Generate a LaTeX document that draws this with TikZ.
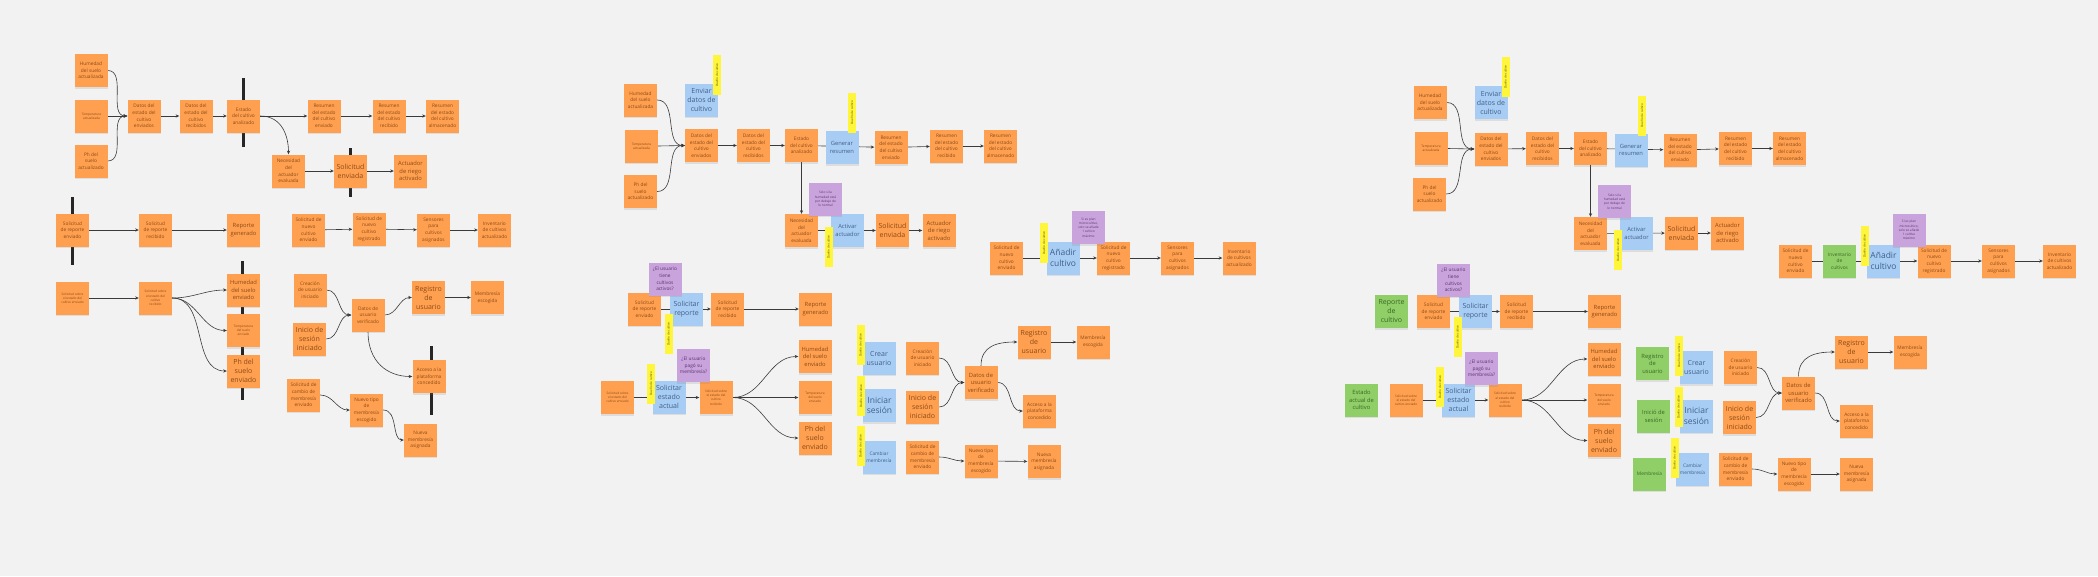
\documentclass[tikz,border=0pt]{standalone}
\usepackage{fontspec}
\setmainfont{Open Sans}
\usetikzlibrary{arrows.meta,shadows}
\pgfdeclarelayer{bg}
\pgfsetlayers{bg,main}
\definecolor{paper}{HTML}{F2F2F2}
\definecolor{orn}{HTML}{FFA050}
\definecolor{orntx}{HTML}{8C4A16}
\definecolor{blu}{HTML}{A8CDF5}
\definecolor{blutx}{HTML}{3F5F88}
\definecolor{pur}{HTML}{C9A3DB}
\definecolor{purtx}{HTML}{5A3470}
\definecolor{grn}{HTML}{90CF68}
\definecolor{grntx}{HTML}{3A6624}
\definecolor{yel}{HTML}{FFF53A}
\definecolor{yeltx}{HTML}{5A5200}
\definecolor{ink}{HTML}{3A3A3A}
\newcommand\szT{\fontsize{3.2}{4.2}\selectfont}
\newcommand\szS{\fontsize{4.8}{6.6}\selectfont}
\newcommand\szM{\fontsize{5.8}{7.6}\selectfont}
\newcommand\szL{\fontsize{7}{9}\selectfont}
\newcommand\szX{\fontsize{8.5}{10.5}\selectfont}
\newcommand\szY{\fontsize{3}{3.6}\selectfont}
\begin{document}
\begin{tikzpicture}[x=1pt,y=-1pt,
 stick/.style={minimum width=33pt,minimum height=33pt,inner sep=1pt,align=center,font=\szS,
   drop shadow={shadow xshift=0.4pt,shadow yshift=-1.6pt,opacity=0.18}},
 on/.style={stick,fill=orn,text=orntx},
 bn/.style={stick,fill=blu,text=blutx},
 gn/.style={stick,fill=grn,text=grntx},
 pn/.style={stick,fill=pur,text=purtx,font=\szT},
 yl/.style={fill=yel,text=yeltx,rotate=90,minimum width=40pt,minimum height=8pt,inner sep=0.3pt,font=\szY},
 ftn/.style={font=\szT}, fmd/.style={font=\szM}, flg/.style={font=\szL}, fxl/.style={font=\szX},
 arr/.style={draw=ink,line width=0.6pt,-{Stealth[length=3.6pt,width=3.2pt]}},
 bar/.style={draw=black!85,line width=3pt}
]
\begin{pgfonlayer}{bg}
\fill[paper] (0,0) rectangle (2098,576);
\end{pgfonlayer}

% ================= Panel 1 =================
\node[on] (a1hum) at (91,70.5) {Humedad\\del suelo\\actualizada};
\node[on,ftn] (a1tem) at (91.5,116) {Temperatura\\actualizada};
\node[on] (a1ph) at (91,161) {Ph del\\suelo\\actualizado};
\node[on] (a1den) at (144,116) {Datos del\\estado del\\cultivo\\enviados};
\node[on] (a1dre) at (196,116) {Datos del\\estado del\\cultivo\\recibidos};
\node[on] (a1est) at (243.5,116) {Estado\\del cultivo\\analizado};
\node[on] (a1ren) at (324,116) {Resumen\\del estado\\del cultivo\\enviado};
\node[on] (a1rre) at (389,116) {Resumen\\del estado\\del cultivo\\recibido};
\node[on] (a1ral) at (442.5,116) {Resumen\\del estado\\del cultivo\\almacenado};
\node[on] (a1nec) at (288.5,171) {Necesidad\\del\\actuador\\evaluada};
\node[on,flg] (a1sol) at (350.5,171) {Solicitud\\enviada};
\node[on,fmd] (a1act) at (410.5,171) {Actuador\\de riego\\activado};
\node[on] (a1sre) at (72.5,230) {Solicitud\\de reporte\\enviado};
\node[on] (a1srr) at (155.5,230) {Solicitud\\de reporte\\recibido};
\node[on,fmd] (a1rep) at (243.5,230) {Reporte\\generado};
\node[on] (a1snc) at (308.5,230) {Solicitud de\\nuevo\\cultivo\\enviado};
\node[on] (a1snr) at (369,229) {Solicitud de\\nuevo\\cultivo\\registrado};
\node[on] (a1sen) at (433.5,230) {Sensores\\para\\cultivos\\asignados};
\node[on] (a1inv) at (494.5,230) {Inventario\\de cultivos\\actualizado};
\node[on,ftn] (a1sse) at (72.5,298) {Solicitud sobre\\el estado del\\cultivo enviado};
\node[on,ftn] (a1ssr) at (155.5,298) {Solicitud sobre\\el estado del\\cultivo\\recibido};
\node[on,fmd] (a1hue) at (243.5,290) {Humedad\\del suelo\\enviado};
\node[on,ftn] (a1tee) at (243.5,330.5) {Temperatura\\del suelo\\enviado};
\node[on,flg] (a1phe) at (243.5,371) {Ph del\\suelo\\enviado};
\node[on] (a1cre) at (310,290) {Creación\\de usuario\\iniciado};
\node[on,flg] (a1ini) at (309.5,339) {Inicio de\\sesión\\iniciado};
\node[on] (a1dat) at (368,315) {Datos de\\usuario\\verificado};
\node[on] (a1scm) at (303.5,395) {Solicitud de\\cambio de\\membresía\\enviado};
\node[on] (a1nti) at (366.5,410) {Nuevo tipo\\de\\membresía\\escogido};
\node[on,flg] (a1reg) at (428.5,297.5) {Registro\\de\\usuario};
\node[on] (a1mem) at (487.5,297.5) {Membresía\\escogida};
\node[on] (a1acc) at (429,376.5) {Acceso a la\\plataforma\\concedido};
\node[on] (a1nue) at (420.5,440) {Nueva\\membresía\\asignada};

% ================= Panel 2 =================
\node[on] (b2hum) at (640.5,100) {Humedad\\del suelo\\actualizada};
\node[on,ftn] (b2tem) at (641.5,146) {Temperatura\\actualizada};
\node[on] (b2ph) at (640.5,191.5) {Ph del\\suelo\\actualizado};
\node[bn,flg] (b2env) at (701.5,100) {Enviar\\datos de\\cultivo};
\node[on] (b2den) at (701.5,145.5) {Datos del\\estado del\\cultivo\\enviados};
\node[on] (b2dre) at (753.5,145.5) {Datos del\\estado del\\cultivo\\recibidos};
\node[on] (b2est) at (801.5,145.5) {Estado\\del cultivo\\analizado};
\node[bn,fmd] (b2gen) at (842,147.5) {Generar\\resumen};
\node[on] (b2ren) at (891,147.5) {Resumen\\del estado\\del cultivo\\enviado};
\node[on] (b2rre) at (946.5,146) {Resumen\\del estado\\del cultivo\\recibido};
\node[on] (b2ral) at (1000.5,146) {Resumen\\del estado\\del cultivo\\almacenado};
\node[on] (b2nec) at (801.5,230.5) {Necesidad\\del\\actuador\\evaluada};
\node[bn,fmd] (b2act) at (847.5,230.5) {Activar\\actuador};
\node[on,flg] (b2sol) at (892.5,230.5) {Solicitud\\enviada};
\node[on,fmd] (b2arr) at (939,230.5) {Actuador\\de riego\\activado};
\node[on] (b2snc) at (1006.5,258) {Solicitud de\\nuevo\\cultivo\\enviado};
\node[bn,fxl] (b2add) at (1063,258) {Añadir\\cultivo};
\node[on] (b2snr) at (1113.5,258) {Solicitud de\\nuevo\\cultivo\\registrado};
\node[on] (b2sen) at (1177.5,258) {Sensores\\para\\cultivos\\asignados};
\node[on] (b2inv) at (1239,258) {Inventario\\de cultivos\\actualizado};
\node[on] (b2sre) at (644.5,309) {Solicitud\\de reporte\\enviado};
\node[bn,flg] (b2srp) at (686.5,309) {Solicitar\\reporte};
\node[on] (b2srr) at (727.5,309) {Solicitud\\de reporte\\recibido};
\node[on,fmd] (b2rep) at (815.5,309) {Reporte\\generado};
\node[on,ftn] (b2sse) at (617.5,397.5) {Solicitud sobre\\el estado del\\cultivo enviado};
\node[bn,flg] (b2sea) at (669,397) {Solicitar\\estado\\actual};
\node[on,ftn] (b2ssr) at (716,397.5) {Solicitud sobre\\el estado del\\cultivo\\recibido};
\node[on,fmd] (b2hue) at (815,356.5) {Humedad\\del suelo\\enviado};
\node[on,ftn] (b2tee) at (815,397.5) {Temperatura\\del suelo\\enviado};
\node[on,flg] (b2phe) at (815,438) {Ph del\\suelo\\enviado};
\node[bn,flg] (b2cus) at (879,358) {Crear\\usuario};
\node[on] (b2cre) at (922.5,358) {Creación\\de usuario\\iniciado};
\node[bn,fxl] (b2ise) at (879.5,405.5) {Iniciar\\sesión};
\node[on,flg] (b2ini) at (922.5,407) {Inicio de\\sesión\\iniciado};
\node[bn] (b2cme) at (879,457) {Cambiar\\membresía};
\node[on] (b2scm) at (922.5,457) {Solicitud de\\cambio de\\membresía\\enviado};
\node[on,fmd] (b2dat) at (981,382.5) {Datos de\\usuario\\verificado};
\node[on,flg] (b2reg) at (1034,342) {Registro\\de\\usuario};
\node[on] (b2mem) at (1093,342) {Membresía\\escogida};
\node[on] (b2acc) at (1039.5,411) {Acceso a la\\plataforma\\concedido};
\node[on] (b2nti) at (981,461) {Nuevo tipo\\de\\membresía\\escogido};
\node[on] (b2nue) at (1044,461.5) {Nueva\\membresía\\asignada};

% ================= Panel 3 =================
\node[on] (c3hum) at (1430,102.5) {Humedad\\del suelo\\actualizada};
\node[on,ftn] (c3tem) at (1431,148.5) {Temperatura\\actualizada};
\node[on] (c3ph) at (1429.5,194) {Ph del\\suelo\\actualizado};
\node[bn,flg] (c3env) at (1491,102.5) {Enviar\\datos de\\cultivo};
\node[on] (c3den) at (1491,149) {Datos del\\estado del\\cultivo\\enviados};
\node[on] (c3dre) at (1542.5,148.5) {Datos del\\estado del\\cultivo\\recibidos};
\node[on] (c3est) at (1590.5,148.5) {Estado\\del cultivo\\analizado};
\node[bn,fmd] (c3gen) at (1631,150) {Generar\\resumen};
\node[on] (c3ren) at (1680,150) {Resumen\\del estado\\del cultivo\\enviado};
\node[on] (c3rre) at (1735.5,148.5) {Resumen\\del estado\\del cultivo\\recibido};
\node[on] (c3ral) at (1789.5,148.5) {Resumen\\del estado\\del cultivo\\almacenado};
\node[on] (c3nec) at (1590.5,233.5) {Necesidad\\del\\actuador\\evaluada};
\node[bn,fmd] (c3act) at (1636.5,233.5) {Activar\\actuador};
\node[on,flg] (c3sol) at (1681.5,233) {Solicitud\\enviada};
\node[on,fmd] (c3arr) at (1727.5,233) {Actuador\\de riego\\activado};
\node[on] (c3snc) at (1795.5,261) {Solicitud de\\nuevo\\cultivo\\enviado};
\node[gn] (c3inc) at (1839.5,261) {Inventario\\de\\cultivos};
\node[bn,fxl] (c3add) at (1883.5,261) {Añadir\\cultivo};
\node[on] (c3snr) at (1934,261) {Solicitud de\\nuevo\\cultivo\\registrado};
\node[on] (c3sen) at (1998.5,261) {Sensores\\para\\cultivos\\asignados};
\node[on] (c3inv) at (2059.5,261) {Inventario\\de cultivos\\actualizado};
\node[gn,flg] (c3rcu) at (1391.5,311.5) {Reporte\\de\\cultivo};
\node[on] (c3sre) at (1433.5,311.5) {Solicitud\\de reporte\\enviado};
\node[bn,flg] (c3srp) at (1475.5,311.5) {Solicitar\\reporte};
\node[on] (c3srr) at (1516.5,311.5) {Solicitud\\de reporte\\recibido};
\node[on,fmd] (c3rep) at (1604.5,311.5) {Reporte\\generado};
\node[gn,fmd] (c3eac) at (1361.5,400) {Estado\\actual de\\cultivo};
\node[on,ftn] (c3sse) at (1406,400) {Solicitud sobre\\el estado del\\cultivo enviado};
\node[bn,flg] (c3sea) at (1458.5,400) {Solicitar\\estado\\actual};
\node[on,ftn] (c3ssr) at (1505,400) {Solicitud sobre\\el estado del\\cultivo\\recibido};
\node[on,fmd] (c3hue) at (1604,359) {Humedad\\del suelo\\enviado};
\node[on,ftn] (c3tee) at (1604,400) {Temperatura\\del suelo\\enviado};
\node[on,flg] (c3phe) at (1604,440.5) {Ph del\\suelo\\enviado};
\node[gn,fmd] (c3gru) at (1652.5,363.5) {Registro\\de\\usuario};
\node[bn,flg] (c3cus) at (1696.5,367.5) {Crear\\usuario};
\node[gn,fmd] (c3gis) at (1653.5,416) {Inició de\\sesión};
\node[bn,fxl] (c3ise) at (1696.5,416) {Iniciar\\sesión};
\node[gn] (c3gme) at (1649.5,474) {Membresía};
\node[bn] (c3cme) at (1692.5,469) {Cambiar\\membresía};
\node[on] (c3cre) at (1740.5,367.5) {Creación\\de usuario\\iniciado};
\node[on,flg] (c3ini) at (1739.5,417.5) {Inicio de\\sesión\\iniciado};
\node[on,fmd] (c3dat) at (1798.5,393) {Datos de\\usuario\\verificado};
\node[on,flg] (c3reg) at (1851.5,352) {Registro\\de\\usuario};
\node[on] (c3mem) at (1910,352) {Membresía\\escogida};
\node[on] (c3acc) at (1856.5,421) {Acceso a la\\plataforma\\concedido};
\node[on] (c3scm) at (1735.5,469) {Solicitud de\\cambio de\\membresía\\enviado};
\node[on] (c3nti) at (1794,474) {Nuevo tipo\\de\\membresía\\escogido};
\node[on] (c3nue) at (1856.5,474) {Nueva\\membresía\\asignada};

% ----- purple notes -----
\node[pn] (b2p1) at (825.5,199) {Solo si la\\humedad está\\por debajo de\\lo normal};
\node[pn] (b2p2) at (1088.5,227.5) {Si es plan\\microcultivo,\\solo se añade\\1 cultivo\\máximo};
\node[pn,font=\szS] (b2p3) at (665,279) {¿El usuario\\tiene\\cultivos\\activos?};
\node[pn,font=\szS] (b2p4) at (693.5,365.5) {¿El usuario\\pagó su\\membresía?};
\node[pn] (c3p1) at (1614.5,201.5) {Solo si la\\humedad está\\por debajo de\\lo normal};
\node[pn] (c3p2) at (1909,230) {Si es plan\\microcultivo,\\solo se añade\\1 cultivo\\máximo};
\node[pn,font=\szS] (c3p3) at (1453.5,280) {¿El usuario\\tiene\\cultivos\\activos?};
\node[pn,font=\szS] (c3p4) at (1481.5,368.5) {¿El usuario\\pagó su\\membresía?};

% ----- yellow labels -----
\node[yl] (b2y1) at (717,75) {Dueño de cultivo};
\node[yl] (b2y2) at (852,112.5) {Dueño de cultivo};
\node[yl] (b2y3) at (828.5,247) {Dueño de cultivo};
\node[yl] (b2y4) at (1044,243) {Dueño de cultivo};
\node[yl] (b2y5) at (668.5,334) {Dueño de cultivo};
\node[yl] (b2y6) at (651,383.5) {Dueño de cultivo};
\node[yl] (b2y7) at (860.5,345) {Dueño de cultivo};
\node[yl] (b2y8) at (861,396) {Dueño de cultivo};
\node[yl] (b2y9) at (860.5,446) {Dueño de cultivo};
\node[yl] (c3y1) at (1505.5,77) {Dueño de cultivo};
\node[yl] (c3y2) at (1642,115.5) {Dueño de cultivo};
\node[yl] (c3y3) at (1618,250) {Dueño de cultivo};
\node[yl] (c3y4) at (1864.5,246) {Dueño de cultivo};
\node[yl] (c3y5) at (1457.5,337) {Dueño de cultivo};
\node[yl] (c3y6) at (1440,387) {Dueño de cultivo};
\node[yl] (c3y7) at (1679,355.5) {Dueño de cultivo};
\node[yl] (c3y8) at (1678.5,407) {Dueño de cultivo};
\node[yl] (c3y9) at (1674.5,458) {Dueño de cultivo};

\begin{pgfonlayer}{bg}
% bars
\draw[bar] (243,78) -- (243,147);
\draw[bar] (350,148) -- (350,197);
\draw[bar] (72,197) -- (72,265);
\draw[bar] (242,261) -- (242,400);
\draw[bar] (431,346) -- (431,415);
% panel 1
\draw[arr] (a1hum.east) to[out=0,in=180] (a1den.west);
\draw[arr] (a1tem.east) -- (a1den.west);
\draw[arr] (a1ph.east) to[out=0,in=180] (a1den.west);
\draw[arr] (a1den) -- (a1dre);
\draw[arr] (a1dre) -- (a1est);
\draw[arr] (a1est) -- (a1ren);
\draw[arr] (a1est.east) .. controls +(22,0) and +(0,-18) .. (a1nec.north);
\draw[arr] (a1ren) -- (a1rre);
\draw[arr] (a1rre) -- (a1ral);
\draw[arr] (a1nec) -- (a1sol);
\draw[arr] (a1sol) -- (a1act);
\draw[arr] (a1sre) -- (a1srr);
\draw[arr] (a1srr) -- (a1rep);
\draw[arr] (a1snc) -- (a1snr);
\draw[arr] (a1snr) -- (a1sen);
\draw[arr] (a1sen) -- (a1inv);
\draw[arr] (a1sse) -- (a1ssr);
\draw[arr] (a1ssr.east) to[out=0,in=180] (a1hue.west);
\draw[arr] (a1ssr.east) to[out=0,in=180] (a1tee.west);
\draw[arr] (a1ssr.east) to[out=0,in=180] (a1phe.west);
\draw[arr] (a1cre.east) to[out=0,in=180] (a1dat.west);
\draw[arr] (a1ini.east) to[out=0,in=180] (a1dat.west);
\draw[arr] (a1dat.east) to[out=0,in=180] (a1reg.west);
\draw[arr] (a1dat.south) .. controls +(0,30) and +(-25,0) .. (a1acc.west);
\draw[arr] (a1reg) -- (a1mem);
\draw[arr] (a1scm.east) to[out=0,in=180] (a1nti.west);
\draw[arr] (a1nti.east) .. controls +(15,0) and +(-12,0) .. (a1nue.west);
% panel 2
\draw[arr] (b2hum.east) to[out=0,in=180] (b2den.west);
\draw[arr] (b2tem.east) -- (b2den.west);
\draw[arr] (b2ph.east) to[out=0,in=180] (b2den.west);
\draw[arr] (b2den) -- (b2dre);
\draw[arr] (b2dre) -- (b2est);
\draw[arr] (b2est) -- (b2ren);
\draw[arr] (b2est) -- (b2nec);
\draw[arr] (b2ren) -- (b2rre);
\draw[arr] (b2rre) -- (b2ral);
\draw[arr] (b2nec) -- (b2sol);
\draw[arr] (b2sol) -- (b2arr);
\draw[arr] (b2snc) -- (b2snr);
\draw[arr] (b2snr) -- (b2sen);
\draw[arr] (b2sen) -- (b2inv);
\draw[arr] (b2sre) -- (b2srr);
\draw[arr] (b2srr) -- (b2rep);
\draw[arr] (b2sse) -- (b2ssr);
\draw[arr] (b2ssr.east) to[out=0,in=180] (b2hue.west);
\draw[arr] (b2ssr.east) -- (b2tee.west);
\draw[arr] (b2ssr.east) to[out=0,in=180] (b2phe.west);
\draw[arr] (b2cre.east) to[out=0,in=180] (b2dat.west);
\draw[arr] (b2ini.east) to[out=0,in=180] (b2dat.west);
\draw[arr] (b2dat.north) .. controls +(0,-20) and +(-20,0) .. (b2reg.west);
\draw[arr] (b2dat.east) to[out=0,in=180] (b2acc.west);
\draw[arr] (b2reg) -- (b2mem);
\draw[arr] (b2scm.east) to[out=0,in=180] (b2nti.west);
\draw[arr] (b2nti) -- (b2nue);
% panel 3
\draw[arr] (c3hum.east) to[out=0,in=180] (c3den.west);
\draw[arr] (c3tem.east) -- (c3den.west);
\draw[arr] (c3ph.east) to[out=0,in=180] (c3den.west);
\draw[arr] (c3den) -- (c3dre);
\draw[arr] (c3dre) -- (c3est);
\draw[arr] (c3est) -- (c3ren);
\draw[arr] (c3est) -- (c3nec);
\draw[arr] (c3ren) -- (c3rre);
\draw[arr] (c3rre) -- (c3ral);
\draw[arr] (c3nec) -- (c3sol);
\draw[arr] (c3sol) -- (c3arr);
\draw[arr] (c3snc) -- (c3snr);
\draw[arr] (c3snr) -- (c3sen);
\draw[arr] (c3sen) -- (c3inv);
\draw[arr] (c3sre) -- (c3srr);
\draw[arr] (c3srr) -- (c3rep);
\draw[arr] (c3sse) -- (c3ssr);
\draw[arr] (c3ssr.east) to[out=0,in=180] (c3hue.west);
\draw[arr] (c3ssr.east) -- (c3tee.west);
\draw[arr] (c3ssr.east) to[out=0,in=180] (c3phe.west);
\draw[arr] (c3cre.east) to[out=0,in=180] (c3dat.west);
\draw[arr] (c3ini.east) to[out=0,in=180] (c3dat.west);
\draw[arr] (c3dat.north) .. controls +(0,-20) and +(-20,0) .. (c3reg.west);
\draw[arr] (c3dat.east) to[out=0,in=180] (c3acc.west);
\draw[arr] (c3reg) -- (c3mem);
\draw[arr] (c3scm.east) to[out=0,in=180] (c3nti.west);
\draw[arr] (c3nti) -- (c3nue);
\end{pgfonlayer}
\end{tikzpicture}
\end{document}
